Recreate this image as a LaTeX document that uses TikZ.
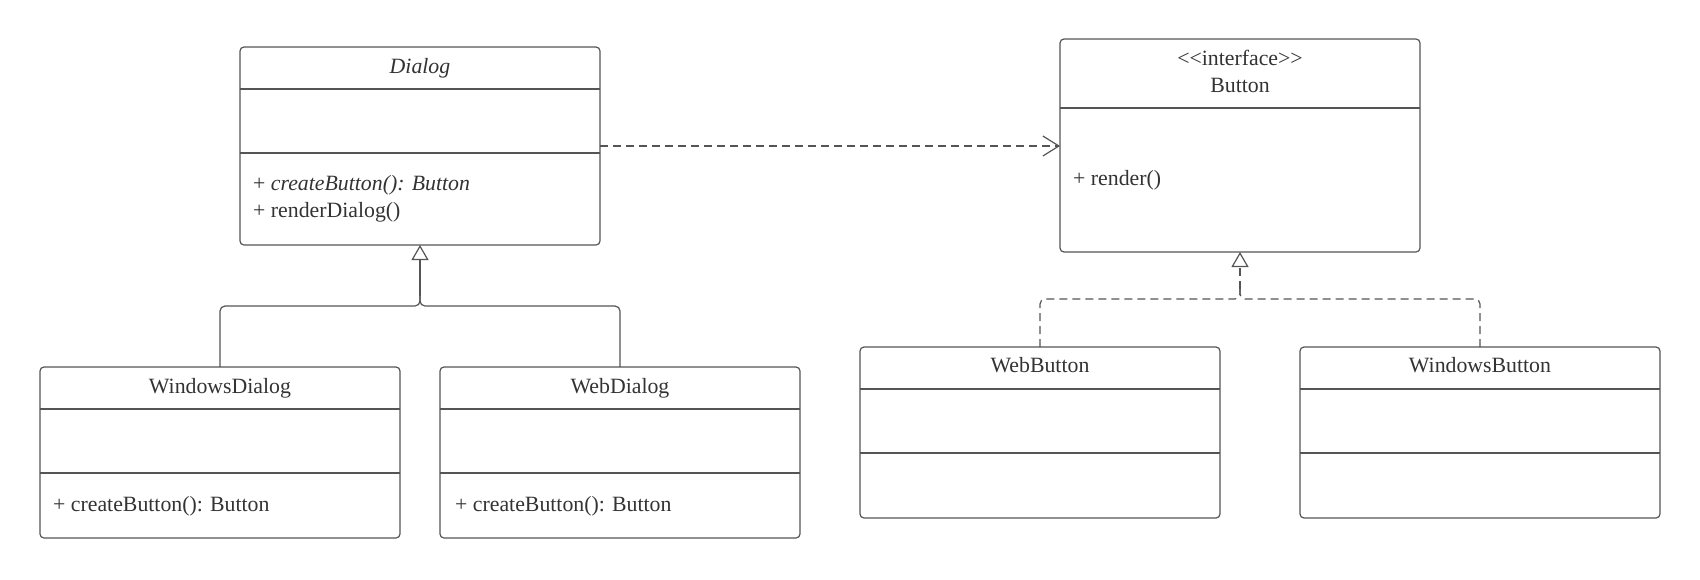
\documentclass[tikz,border=0pt]{standalone}
\usepackage{fontspec}
\setmainfont{Liberation Serif}
\usetikzlibrary{arrows.meta,calc}
\definecolor{ln}{HTML}{555555}
\definecolor{tx}{HTML}{333333}
\begin{document}
\begin{tikzpicture}[x=1pt,y=-1pt,
  box/.style={draw=ln, line width=1.2pt, rounded corners=4pt, minimum width=360pt, anchor=north west, inner sep=0pt, outer sep=0pt},
  div/.style={draw=ln, line width=1.2pt},
  txt/.style={text=tx, font=\fontsize{21.8}{26}\selectfont, inner sep=0pt, anchor=base},
  mtxt/.style={txt, anchor=base west},
  conn/.style={draw=ln, line width=1.2pt},
  dsh/.style={conn, dash pattern=on 8pt off 5pt},
  gentip/.style={-{Triangle[open, length=15pt, width=17pt, line width=1.2pt]}},
  deptip/.style={-{Straight Barb[length=16pt, width=20pt, line width=1.2pt]}}]
\useasboundingbox (0,0) rectangle (1700,579);
\fill[white] (0,0) rectangle (1700,579);

% Dialog
\node[box, minimum height=198pt] (dialog) at (240,47) {};
\draw[div] (dialog.west |- 0,89) -- (dialog.east |- 0,89);
\draw[div] (dialog.west |- 0,153) -- (dialog.east |- 0,153);
\node[txt] (dialogT) at (420,73.3) {\itshape Dialog};
\node[mtxt] (dialogM1) at (253,190.5) {+ \itshape createButton(): Button};
\node[mtxt] (dialogM2) at (253,217) {+ renderDialog()};

% Button
\node[box, minimum height=213pt] (button) at (1060,39) {};
\draw[div] (button.west |- 0,108) -- (button.east |- 0,108);
\node[txt] (buttonS) at (1240,65.7) {<{}<interface>{}>};
\node[txt] (buttonT) at (1240,92.7) {Button};
\node[mtxt] (buttonM) at (1073,185) {+ render()};

% WindowsDialog
\node[box, minimum height=171pt] (wdlg) at (40,367) {};
\draw[div] (wdlg.west |- 0,409) -- (wdlg.east |- 0,409);
\draw[div] (wdlg.west |- 0,473) -- (wdlg.east |- 0,473);
\node[txt] (wdlgT) at (220,393.3) {WindowsDialog};
\node[mtxt] (wdlgM) at (53,511) {+ createButton(): Button};

% WebDialog
\node[box, minimum height=171pt] (webdlg) at (440,367) {};
\draw[div] (webdlg.west |- 0,409) -- (webdlg.east |- 0,409);
\draw[div] (webdlg.west |- 0,473) -- (webdlg.east |- 0,473);
\node[txt] (webdlgT) at (620,393.3) {WebDialog};
\node[mtxt] (webdlgM) at (455,511) {+ createButton(): Button};

% WebButton
\node[box, minimum height=171pt] (webbtn) at (860,347) {};
\draw[div] (webbtn.west |- 0,389) -- (webbtn.east |- 0,389);
\draw[div] (webbtn.west |- 0,453) -- (webbtn.east |- 0,453);
\node[txt] (webbtnT) at (1040,372.7) {WebButton};

% WindowsButton
\node[box, minimum height=171pt] (winbtn) at (1300,347) {};
\draw[div] (winbtn.west |- 0,389) -- (winbtn.east |- 0,389);
\draw[div] (winbtn.west |- 0,453) -- (winbtn.east |- 0,453);
\node[txt] (winbtnT) at (1480,372.7) {WindowsButton};

% Dependency Dialog -> Button
\draw[dsh, deptip] (dialog.east) -- (dialog.east -| button.west);

% Generalization
\coordinate (j1) at (420,306);
\coordinate (j1u) at (420,296);
\draw[conn, rounded corners=5pt] (wdlg.north) |- (j1) -- (j1u);
\draw[conn, rounded corners=5pt] (webdlg.north) |- (j1) -- (j1u);
\draw[conn, gentip] (j1u) -- (dialog.south);

% Realization
\coordinate (j2) at (1240,299);
\coordinate (j2u) at (1240,289);
\draw[dsh, rounded corners=5pt] (webbtn.north) |- (j2) -- (j2u);
\draw[dsh, rounded corners=5pt] (winbtn.north) |- (j2) -- (j2u);
\draw[dsh, gentip] (j2u) -- (button.south);
\end{tikzpicture}
\end{document}
